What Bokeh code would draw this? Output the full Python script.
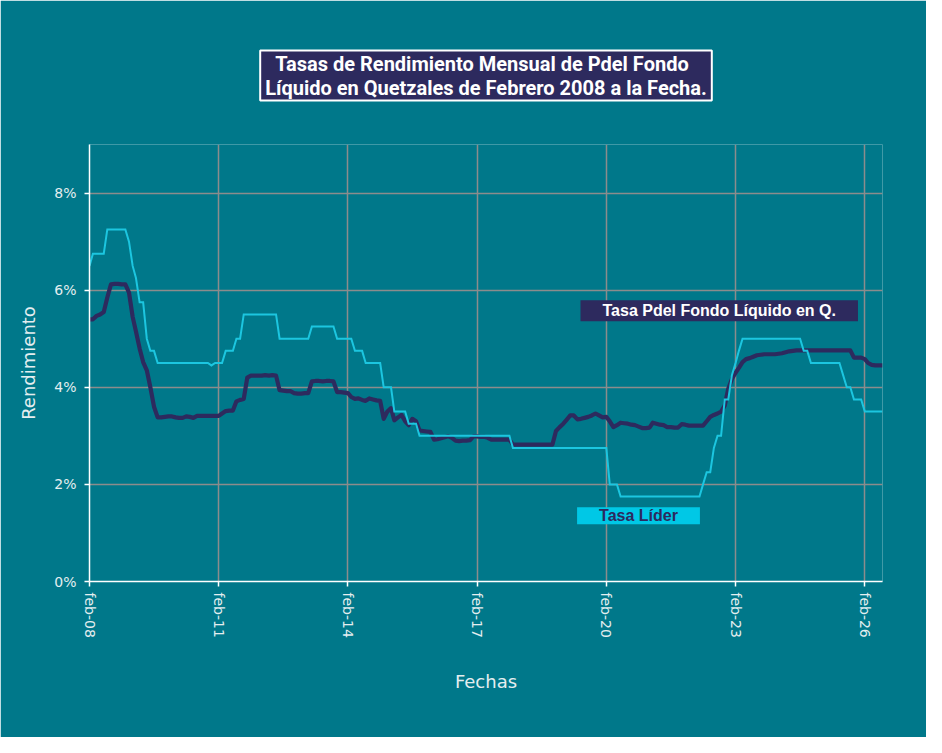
import math
import pandas as pd
from bokeh.plotting import figure
from bokeh.models import (Range1d, FixedTicker, CustomJSTickFormatter, PrintfTickFormatter,
                          Label, Title, ColumnDataSource)
from bokeh.embed import file_html
from bokeh.resources import INLINE

# ---------------- data (monthly, from Feb 2008) ----------------
inicio = "2008-02-01"

tasa_fondo = [
    5.40, 5.40, 5.47, 5.50, 5.55, 5.85, 6.12, 6.13, 6.13, 6.12, 6.12, 5.95,
    5.45, 5.15, 4.80, 4.52, 4.35, 4.00, 3.60, 3.38, 3.38, 3.39, 3.40, 3.40,
    3.38, 3.37, 3.37, 3.40, 3.39, 3.37, 3.41, 3.41, 3.41, 3.41, 3.41, 3.41,
    3.41, 3.46, 3.51, 3.52, 3.52, 3.71, 3.74, 3.76, 4.20, 4.24, 4.24, 4.24,
    4.24, 4.25, 4.24, 4.25, 4.24, 3.94, 3.93, 3.92, 3.92, 3.88, 3.87, 3.87,
    3.88, 3.88, 4.12, 4.13, 4.13, 4.12, 4.13, 4.13, 4.12, 3.90, 3.90, 3.89,
    3.88, 3.80, 3.76, 3.77, 3.74, 3.72, 3.77, 3.75, 3.73, 3.72, 3.35, 3.50,
    3.57, 3.32, 3.38, 3.43, 3.30, 3.22, 3.35, 3.30, 3.11, 3.10, 3.09, 3.08,
    2.92, 2.93, 2.95, 2.97, 2.99, 2.96, 2.90, 2.89, 2.90, 2.90, 2.91, 2.99,
    2.99, 2.98, 2.98, 2.96, 2.92, 2.92, 2.92, 2.92, 2.92, 2.92, 2.82, 2.82,
    2.82, 2.82, 2.82, 2.82, 2.82, 2.82, 2.82, 2.82, 2.82, 2.82, 3.10, 3.18,
    3.25, 3.33, 3.42, 3.42, 3.34, 3.35, 3.37, 3.39, 3.42, 3.46, 3.42, 3.38,
    3.39, 3.30, 3.18, 3.22, 3.27, 3.26, 3.25, 3.23, 3.22, 3.19, 3.16, 3.16,
    3.17, 3.27, 3.25, 3.23, 3.22, 3.18, 3.18, 3.17, 3.17, 3.24, 3.23, 3.21,
    3.21, 3.21, 3.21, 3.21, 3.30, 3.39, 3.43, 3.46, 3.50, 3.62, 3.97, 4.17,
    4.30, 4.40, 4.52, 4.58, 4.60, 4.63, 4.66, 4.67, 4.68, 4.68, 4.68, 4.68,
    4.69, 4.70, 4.72, 4.74, 4.75, 4.76, 4.76, 4.76, 4.76, 4.76, 4.76, 4.76,
    4.76, 4.76, 4.76, 4.76, 4.76, 4.76, 4.76, 4.76, 4.76, 4.61, 4.61, 4.61,
    4.58, 4.50, 4.46, 4.45, 4.45, 4.45,
]

tasa_lider = [
    6.50, 6.75, 6.75, 6.75, 6.75, 7.25, 7.25, 7.25, 7.25, 7.25, 7.25, 7.00,
    6.50, 6.25, 5.75, 5.75, 5.00, 4.75, 4.75, 4.50, 4.50, 4.50, 4.50, 4.50,
    4.50, 4.50, 4.50, 4.50, 4.50, 4.50, 4.50, 4.50, 4.50, 4.50, 4.45, 4.50,
    4.50, 4.50, 4.75, 4.75, 4.75, 5.00, 5.00, 5.50, 5.50, 5.50, 5.50, 5.50,
    5.50, 5.50, 5.50, 5.50, 5.50, 5.00, 5.00, 5.00, 5.00, 5.00, 5.00, 5.00,
    5.00, 5.00, 5.25, 5.25, 5.25, 5.25, 5.25, 5.25, 5.25, 5.00, 5.00, 5.00,
    5.00, 5.00, 4.75, 4.75, 4.75, 4.50, 4.50, 4.50, 4.50, 4.50, 4.00, 4.00,
    4.00, 3.50, 3.50, 3.50, 3.50, 3.25, 3.25, 3.25, 3.00, 3.00, 3.00, 3.00,
    3.00, 3.00, 3.00, 3.00, 3.00, 3.00, 3.00, 3.00, 3.00, 3.00, 3.00, 3.00,
    3.00, 3.00, 3.00, 3.00, 3.00, 3.00, 3.00, 3.00, 3.00, 3.00, 2.75, 2.75,
    2.75, 2.75, 2.75, 2.75, 2.75, 2.75, 2.75, 2.75, 2.75, 2.75, 2.75, 2.75,
    2.75, 2.75, 2.75, 2.75, 2.75, 2.75, 2.75, 2.75, 2.75, 2.75, 2.75, 2.75,
    2.75, 2.00, 2.00, 2.00, 1.75, 1.75, 1.75, 1.75, 1.75, 1.75, 1.75, 1.75,
    1.75, 1.75, 1.75, 1.75, 1.75, 1.75, 1.75, 1.75, 1.75, 1.75, 1.75, 1.75,
    1.75, 1.75, 1.75, 2.00, 2.25, 2.25, 2.75, 3.00, 3.00, 3.75, 3.75, 4.25,
    4.50, 4.75, 5.00, 5.00, 5.00, 5.00, 5.00, 5.00, 5.00, 5.00, 5.00, 5.00,
    5.00, 5.00, 5.00, 5.00, 5.00, 5.00, 5.00, 4.75, 4.75, 4.50, 4.50, 4.50,
    4.50, 4.50, 4.50, 4.50, 4.50, 4.50, 4.25, 4.00, 4.00, 3.75, 3.75, 3.75,
    3.50, 3.50, 3.50, 3.50, 3.50, 3.50,
]

tick_years = [2008, 2011, 2014, 2017, 2020, 2023, 2026]
y_ticks = [0, 2, 4, 6, 8]
meses = ["ene", "feb", "mar", "abr", "may", "jun", "jul", "ago", "sep", "oct", "nov", "dic"]

titulo_1 = "Tasas de Rendimiento Mensual de Pdel Fondo"
titulo_2 = "Líquido en Quetzales de Febrero 2008 a la Fecha."
nombre_fondo = "Tasa Pdel Fondo Líquido en Q."
nombre_lider = "Tasa Líder"

# ---------------- styles ----------------
TEAL = "#00788A"
NAVY = "#2D2A5E"
CYAN_LINE = "#1CC6E0"
CYAN_BOX = "#00C8E6"
GRID = "#8C8C8C"
TXT = "#E4EEF0"
AX_FONT = "DejaVu Sans"
TITLE_FONT = "Roboto"

fechas = pd.date_range(inicio, periods=len(tasa_lider), freq="MS")
src = ColumnDataSource(dict(fecha=fechas, fondo=tasa_fondo, lider=tasa_lider))

t0 = fechas[0].value / 1e6
t1 = fechas[-1].value / 1e6
n_m = len(fechas) - 1


def mx(m):
    return t0 + (t1 - t0) * m / n_m


p = figure(width=926, height=737, x_axis_type="datetime",
           output_backend="svg", toolbar_location=None,
           x_range=Range1d(t0, t1), y_range=Range1d(0, 9),
           min_border_left=89, min_border_right=44,
           min_border_top=144, min_border_bottom=156,
           background_fill_color=TEAL, border_fill_color=TEAL,
           outline_line_color=None)

# boxed title; shorter first line nudged to sit centred
titulo = "\u00a0\u00a0" + titulo_1 + "\n" + titulo_2
p.title = Title(text=titulo, align="center", text_color="white", text_font=TITLE_FONT,
                text_font_size="20px", text_font_style="bold", text_line_height=1.0,
                background_fill_color=NAVY, border_line_color="white",
                border_line_width=2, padding=(5, 1), standoff=88)

p.line("fecha", "fondo", source=src, line_color=NAVY, line_width=4.2, line_join="round")
p.line("fecha", "lider", source=src, line_color=CYAN_LINE, line_width=2, line_join="miter")

# grid
p.xgrid.grid_line_color = GRID
p.ygrid.grid_line_color = GRID
p.xgrid.grid_line_width = 1.5
p.ygrid.grid_line_width = 1.5

# x axis
xa = p.xaxis[0]
xa.ticker = FixedTicker(ticks=[pd.Timestamp(f"{y}-02-01").value / 1e6 for y in tick_years])
xa.formatter = CustomJSTickFormatter(code="""
const m = %s;
const d = new Date(tick);
return m[d.getUTCMonth()] + '-' + String(d.getUTCFullYear()).slice(-2);
""" % str(meses))
xa.major_label_orientation = -math.pi / 2
xa.axis_label = "Fechas"

# y axis
ya = p.yaxis[0]
ya.ticker = FixedTicker(ticks=y_ticks)
ya.formatter = PrintfTickFormatter(format="%d%%")
ya.axis_label = "Rendimiento"

for ax in (xa, ya):
    ax.axis_line_color = "white"
    ax.axis_line_width = 1.5
    ax.major_tick_line_color = "white"
    ax.major_tick_line_width = 1.5
    ax.major_tick_out = 5
    ax.major_tick_in = 0
    ax.minor_tick_line_color = None
    ax.major_label_text_color = TXT
    ax.major_label_text_font = AX_FONT
    ax.major_label_text_font_size = "14px"
    ax.axis_label_text_color = TXT
    ax.axis_label_text_font = AX_FONT
    ax.axis_label_text_font_size = "18px"
    ax.axis_label_text_font_style = "normal"

xa.major_label_standoff = 6
xa.axis_label_standoff = 30
ya.major_label_standoff = 8
ya.axis_label_standoff = 12

# series labels
p.add_layout(Label(x=mx(175.5), y=5.575, text=nombre_fondo, text_align="center",
                   text_baseline="middle", text_color="white", text_font="Liberation Sans",
                   text_font_size="16px", text_font_style="bold",
                   background_fill_color=NAVY, padding=(22, 2)))
p.add_layout(Label(x=mx(153.0), y=1.354, text=nombre_lider, text_align="center",
                   text_baseline="middle", text_color=NAVY, text_font="Liberation Sans",
                   text_font_size="16px", text_font_style="bold",
                   background_fill_color=CYAN_BOX, padding=(22, 0)))

open("out.html", "w").write(file_html(p, INLINE))
